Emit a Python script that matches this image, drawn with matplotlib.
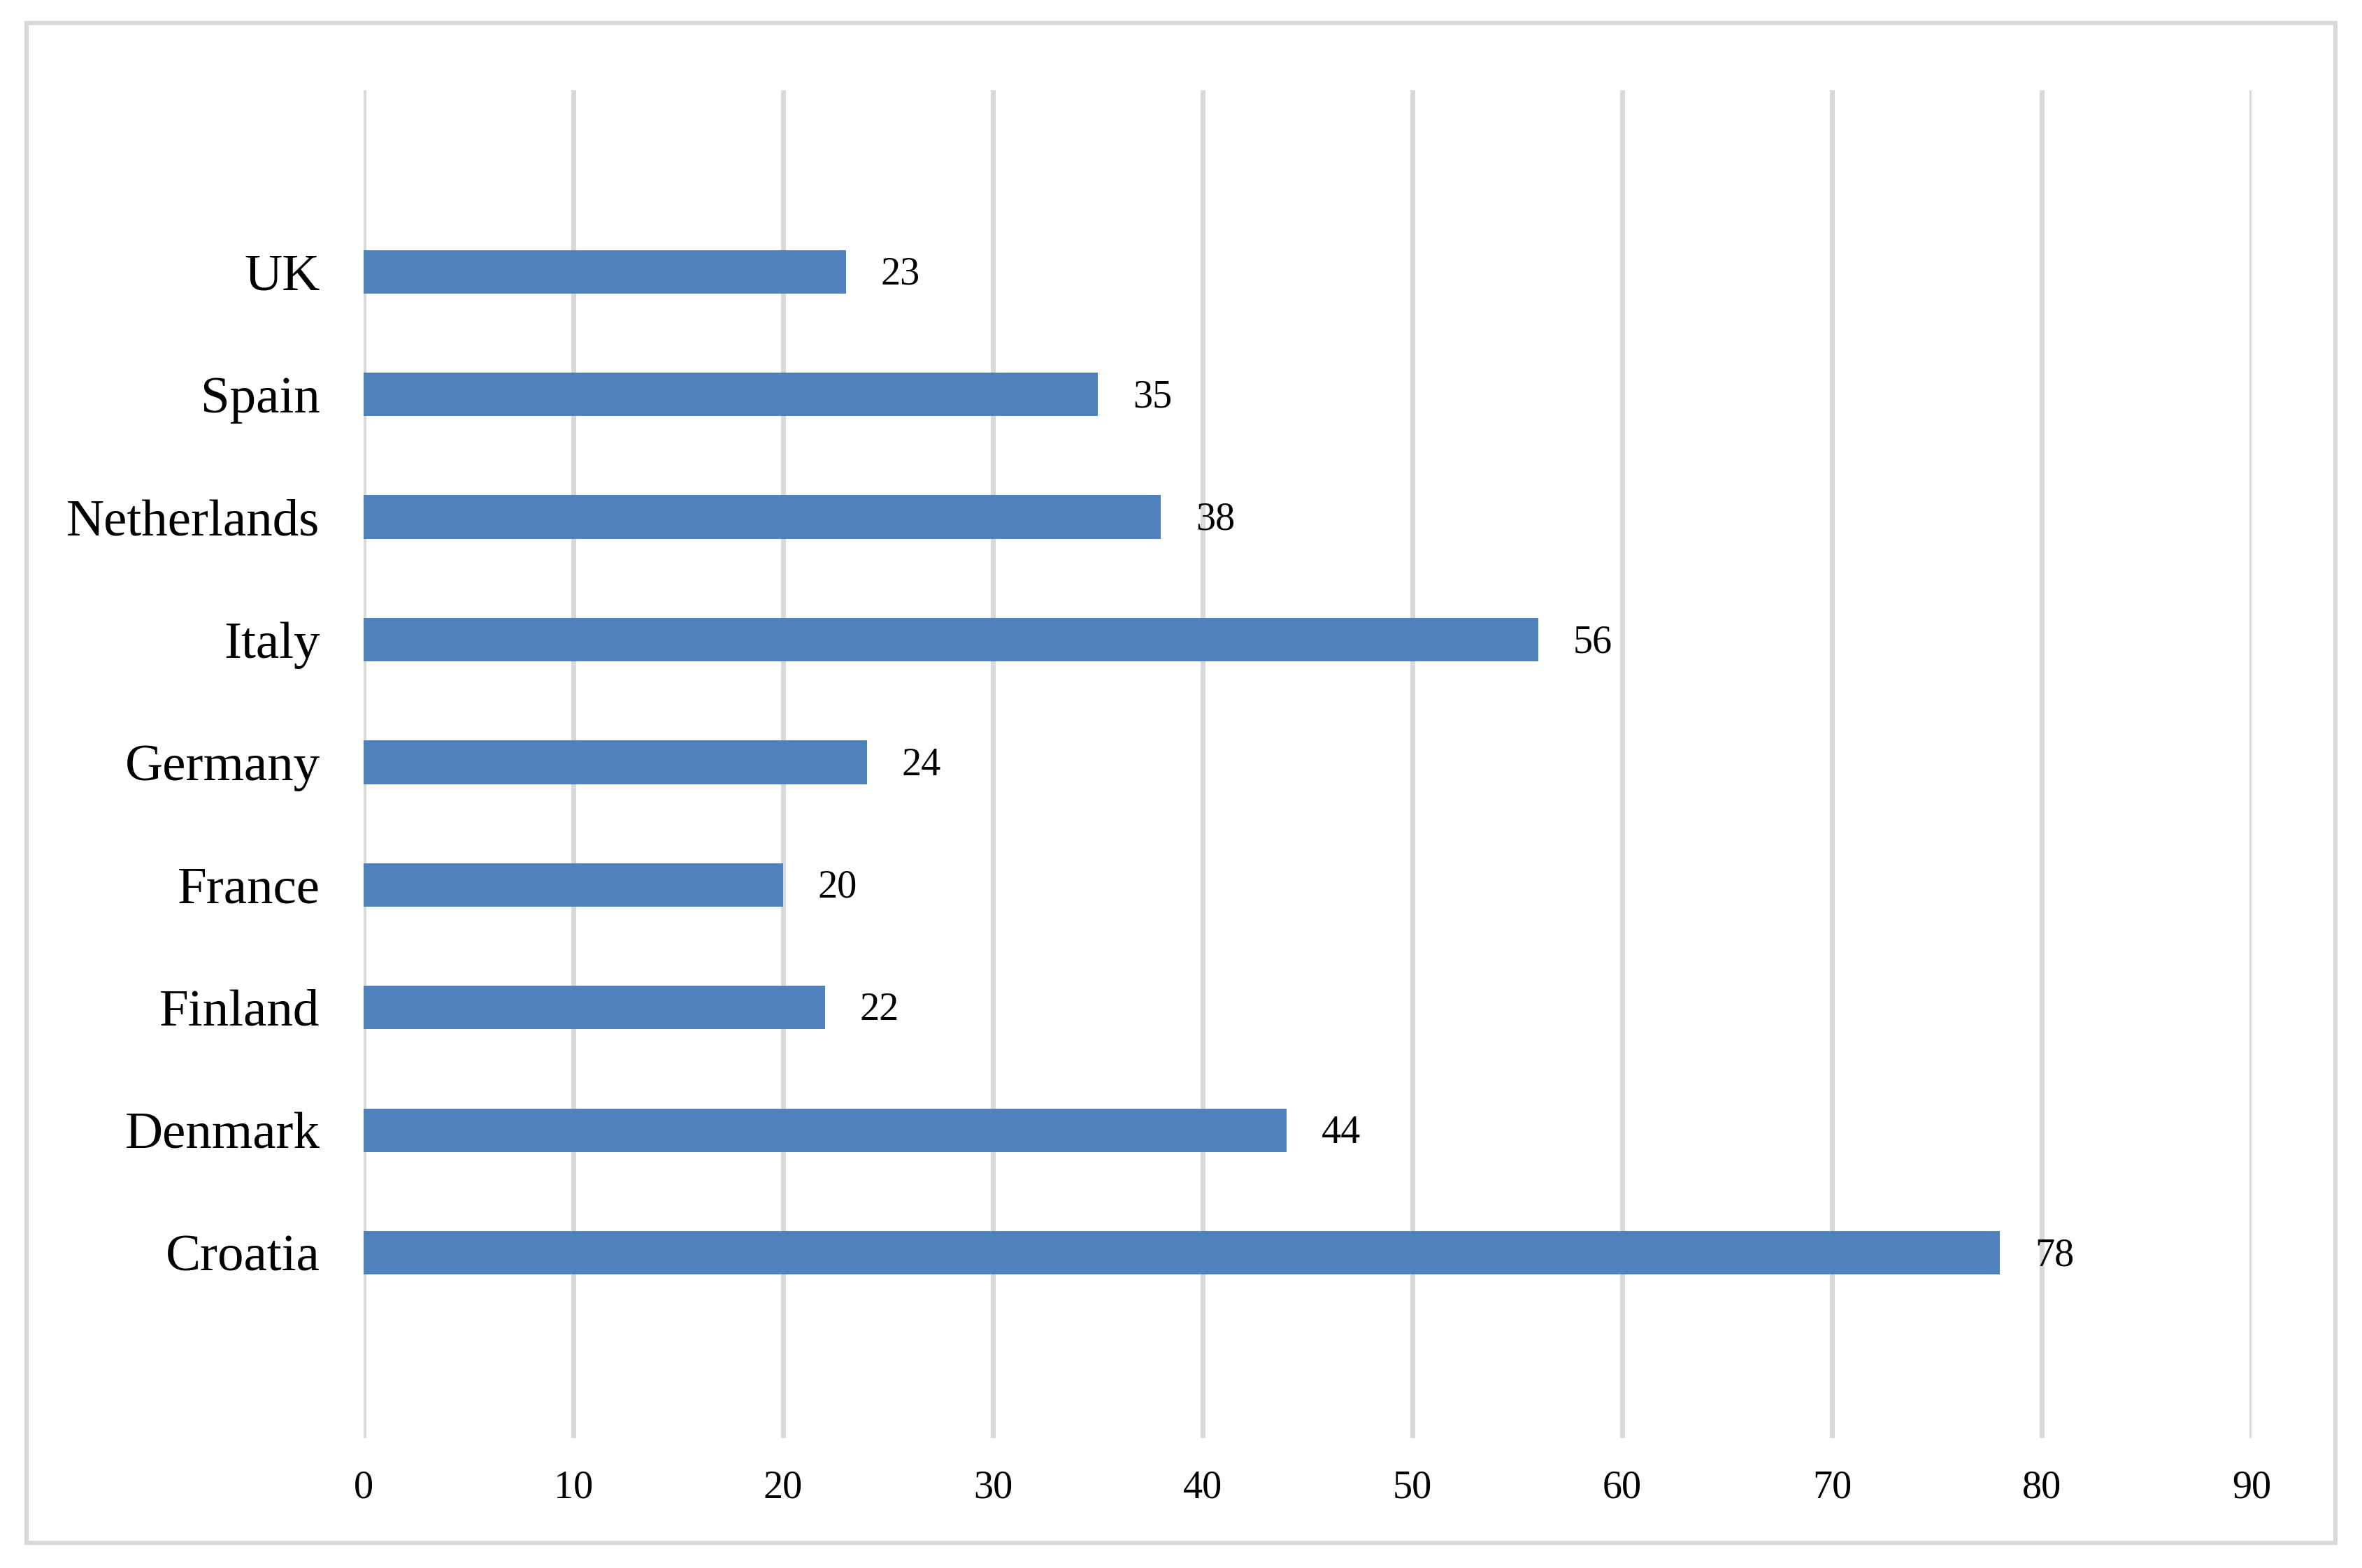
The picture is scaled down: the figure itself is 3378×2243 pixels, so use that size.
import matplotlib
matplotlib.use("Agg")
import matplotlib.pyplot as plt
from matplotlib.patches import Rectangle

countries = ["Croatia", "Denmark", "Finland", "France", "Germany", "Italy", "Netherlands", "Spain", "UK"]
values = [78, 44, 22, 20, 24, 56, 38, 35, 23]
xticks = [0, 10, 20, 30, 40, 50, 60, 70, 80, 90]

plt.rcParams['font.family'] = ['Liberation Serif', 'DejaVu Serif']

W, H, DPI = 3378, 2243, 300
fig = plt.figure(figsize=(W / DPI, H / DPI), dpi=DPI)
fig.patch.set_facecolor('white')

# outer chart border
fig.patches.append(Rectangle((38 / W, 1 - 2207 / H), (3340 - 38) / W, (2207 - 33) / H,
                             transform=fig.transFigure, fill=False,
                             edgecolor='#D9D9D9', linewidth=1.5, zorder=0))

ax = fig.add_axes([520 / W, 1 - 2057 / H, (3220 - 520) / W, (2057 - 129) / H])
ypos = list(range(len(countries)))
bars = ax.barh(ypos, values, height=0.355, color='#4F81BD', zorder=3)

ax.set_xlim(0, 90)
ax.set_ylim(-1.51, len(countries) - 1 + 1.48)
ax.set_xticks(xticks)
ax.set_xticklabels([str(t) for t in xticks], fontsize=13.5)
ax.set_yticks(ypos)
ax.set_yticklabels(countries, fontsize=18)
ax.tick_params(axis='both', length=0)
ax.tick_params(axis='x', pad=11)
ax.tick_params(axis='y', pad=15)
for s in ax.spines.values():
    s.set_visible(False)
ax.grid(axis='x', color='#D9D9D9', linewidth=1.7, zorder=0)
ax.set_axisbelow(True)

for y, v in zip(ypos, values):
    ax.annotate(str(v), xy=(v, y), xytext=(12, -1), textcoords='offset points',
                ha='left', va='center', fontsize=13.5)

fig.savefig("out.png", dpi=DPI, facecolor='white')
